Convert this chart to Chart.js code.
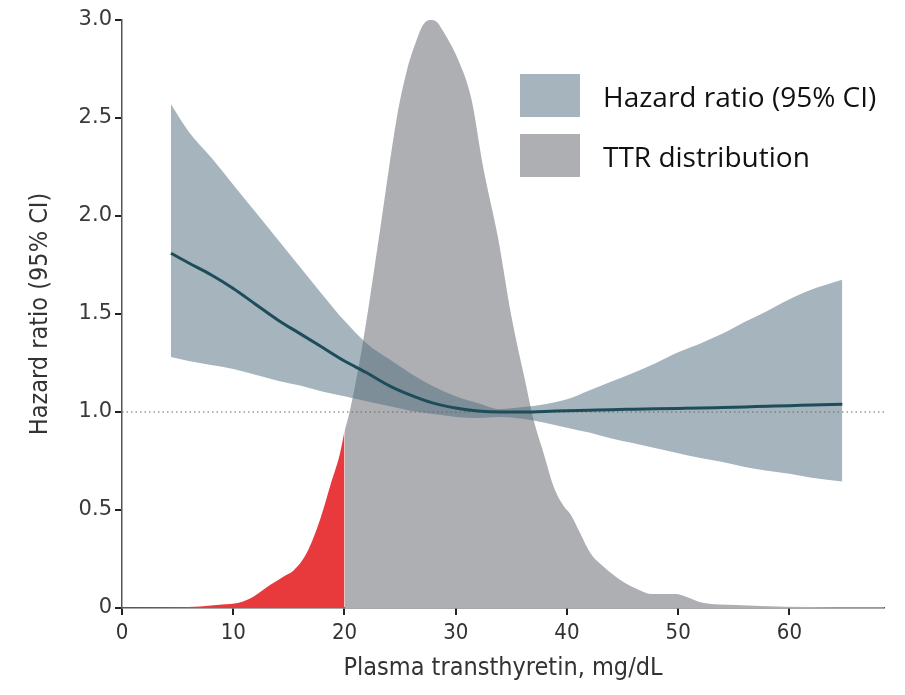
<!DOCTYPE html>
<html lang="en">
<head>
  <meta charset="UTF-8">
  <title>Hazard ratio by plasma transthyretin</title>
  <script src="https://cdn.jsdelivr.net/npm/chart.js"></script>
  <style>
    body { margin: 0; background: #fff; }
    .wrap { position: relative; width: 905px; height: 695px; }
    .legend { position: absolute; left: 520px; top: 74px; font-family: "Open Sans", sans-serif; font-size: 28px; color: #111; }
    .legend .row { display: flex; align-items: center; height: 43px; margin-bottom: 17px; }
    .legend .box { width: 60px; height: 43px; margin-right: 23px; }
  </style>
</head>
<body>
  <div class="wrap">
    <canvas id="hrChart" width="905" height="695"></canvas>
    <div class="legend">
      <div class="row"><span class="box" style="background:#a5b4bd"></span>Hazard ratio (95% CI)</div>
      <div class="row"><span class="box" style="background:#aeafb3"></span>TTR distribution</div>
    </div>
  </div>

  <script>
    // spline estimate with 95% CI
    const ttrLevels = [4.4, 6, 8, 10, 12, 14, 16, 18, 20, 22, 24, 26, 28, 30, 32, 34, 36, 38, 40, 42, 44, 46, 48, 50, 52, 54, 56, 58, 60, 62, 64.75];
    const hazard = [1.81, 1.76, 1.70, 1.63, 1.55, 1.47, 1.40, 1.33, 1.26, 1.20, 1.135, 1.085, 1.045, 1.02, 1.005, 1.0, 1.0, 1.003, 1.006, 1.009, 1.012, 1.014, 1.016, 1.018, 1.02, 1.023, 1.026, 1.029, 1.032, 1.036, 1.04];
    const ciLower = [1.28, 1.26, 1.24, 1.22, 1.19, 1.16, 1.135, 1.105, 1.08, 1.055, 1.03, 1.005, 0.99, 0.975, 0.97, 0.975, 0.965, 0.945, 0.92, 0.895, 0.865, 0.84, 0.815, 0.79, 0.765, 0.745, 0.72, 0.70, 0.685, 0.665, 0.645];
    const ciUpper = [2.57, 2.43, 2.30, 2.16, 2.02, 1.88, 1.74, 1.60, 1.465, 1.35, 1.27, 1.195, 1.13, 1.08, 1.045, 1.015, 1.025, 1.04, 1.065, 1.11, 1.155, 1.20, 1.25, 1.305, 1.35, 1.40, 1.46, 1.515, 1.575, 1.625, 1.675];

    // TTR density, low part (< 20 mg/dL) shown in red
    const lowX = [0, 4, 7, 9, 10.5, 11.8, 13.3, 14.5, 15.4, 16.6, 17.8, 18.7, 19.6, 20];
    const lowY = [0, 0.002, 0.008, 0.018, 0.027, 0.058, 0.117, 0.16, 0.19, 0.28, 0.45, 0.62, 0.79, 0.9];
    const distX = [20, 20.5, 21.7, 23.2, 24.7, 25.6, 26.5, 27, 27.7, 28.3, 28.9, 30.2, 31.4, 32.5, 33.8, 35, 36.2, 37, 37.9, 38.8, 39.7, 40.3, 41.2, 42.1, 43.3, 44.8, 46.2, 47.7, 49.8, 50.7, 52.2, 55.2, 59.7, 68.5];
    const distY = [0.9, 1.01, 1.37, 1.93, 2.5, 2.74, 2.90, 2.97, 3.0, 2.99, 2.94, 2.80, 2.60, 2.24, 1.89, 1.49, 1.17, 0.96, 0.79, 0.62, 0.52, 0.48, 0.38, 0.28, 0.21, 0.143, 0.10, 0.071, 0.071, 0.058, 0.027, 0.015, 0.007, 0.004];

    const refX = [0, 68.5];
    const refY = [1, 1];

    const xMax = 68.5;
    const yTicks = [0, 0.5, 1, 1.5, 2, 2.5, 3];

    const pts = (xs, ys) => xs.map((x, i) => ({ x: x, y: ys[i] }));
    const tickFont = { family: 'DejaVu Sans', size: 21 };
    const narrow = "'DejaVu Sans Condensed', Roboto, sans-serif";

    new Chart(document.getElementById('hrChart'), {
      type: 'line',
      data: {
        datasets: [
          {
            label: 'Hazard ratio',
            data: pts(ttrLevels, hazard),
            borderColor: '#1e4d5a',
            borderWidth: 3,
            pointRadius: 0,
            cubicInterpolationMode: 'monotone',
            fill: false,
            order: 0
          },
          {
            label: 'Reference',
            data: pts(refX, refY),
            borderColor: '#666',
            borderWidth: 1.2,
            borderDash: [1.5, 3],
            pointRadius: 0,
            fill: false,
            order: 1
          },
          {
            label: 'Lower CI',
            data: pts(ttrLevels, ciLower),
            borderWidth: 0,
            borderColor: 'transparent',
            pointRadius: 0,
            cubicInterpolationMode: 'monotone',
            fill: false,
            order: 3
          },
          {
            label: 'Upper CI',
            data: pts(ttrLevels, ciUpper),
            borderWidth: 0,
            borderColor: 'transparent',
            backgroundColor: 'rgba(82, 111, 128, 0.52)',
            pointRadius: 0,
            cubicInterpolationMode: 'monotone',
            fill: 2,
            order: 2
          },
          {
            label: 'Low TTR',
            data: pts(lowX, lowY),
            borderWidth: 0,
            borderColor: 'transparent',
            backgroundColor: '#e8393c',
            pointRadius: 0,
            cubicInterpolationMode: 'monotone',
            fill: 'origin',
            order: 4
          },
          {
            label: 'TTR distribution',
            data: pts(distX, distY),
            borderWidth: 0,
            borderColor: 'transparent',
            backgroundColor: '#aeafb3',
            pointRadius: 0,
            cubicInterpolationMode: 'monotone',
            fill: 'origin',
            clip: false,
            order: 5
          }
        ]
      },
      options: {
        responsive: false,
        animation: false,
        layout: { padding: { top: 20, right: 21, left: 0, bottom: 0 } },
        plugins: {
          legend: { display: false },
          tooltip: { enabled: false }
        },
        scales: {
          x: {
            type: 'linear',
            min: 0,
            max: xMax,
            afterFit: (s) => { s.height = 87; },
            border: { color: '#555', width: 1.5 },
            grid: { drawOnChartArea: false, tickLength: 7, color: '#222', lineWidth: 2 },
            ticks: {
              stepSize: 10,
              includeBounds: false,
              padding: 5,
              color: '#333',
              font: { family: narrow, size: 22 }
            },
            title: {
              display: true,
              text: 'Plasma transthyretin, mg/dL',
              color: '#333',
              font: { family: narrow, size: 25 },
              padding: { top: 0, bottom: 12 }
            }
          },
          y: {
            min: 0,
            max: 3,
            afterFit: (s) => { s.width = 122; },
            afterBuildTicks: (s) => { s.ticks = yTicks.map(v => ({ value: v })); },
            border: { color: '#555', width: 1.5 },
            grid: { drawOnChartArea: false, tickLength: 7, color: '#222', lineWidth: 2 },
            ticks: {
              padding: 3,
              color: '#3a3a3a',
              font: tickFont,
              callback: (v) => v === 0 ? '0' : v.toFixed(1)
            },
            title: {
              display: true,
              text: 'Hazard ratio (95% CI)',
              color: '#333',
              font: { family: narrow, size: 25 },
              padding: { top: 25, bottom: 0 }
            }
          }
        }
      }
    });
  </script>
</body>
</html>
